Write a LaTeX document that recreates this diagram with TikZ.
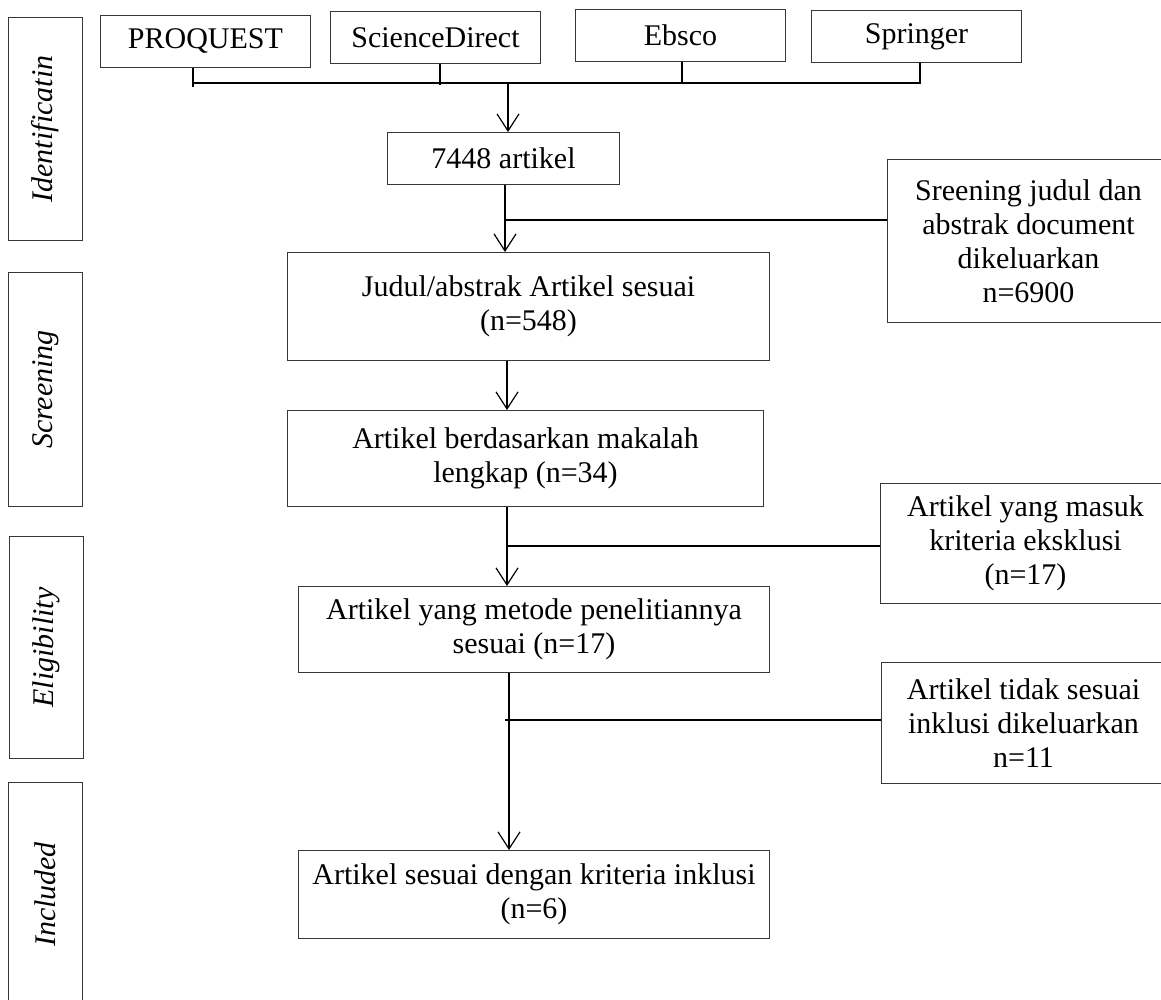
\documentclass[tikz,border=0pt]{standalone}
\usepackage{fontspec}
\setmainfont{Liberation Serif}
\usetikzlibrary{arrows.meta,calc}
\definecolor{boxgray}{RGB}{55,55,55}
\begin{document}
\begin{tikzpicture}[x=1pt,y=-1pt,
  bx/.style={draw=boxgray, line width=1pt, align=center, inner sep=0pt, anchor=north west, font=\fontsize{30}{34}\selectfont},
  lbl/.style={rotate=90, font=\fontsize{30}{34}\selectfont\itshape, inner sep=0pt},
  con/.style={line width=1.4pt},
  arr/.style={con, -{Straight Barb[length=17pt,width=22pt,line width=1.2pt]}}]
\clip (0,0) rectangle (1161,1000);
\fill[white] (0,0) rectangle (1161,1000);
% side labels
\node[bx, minimum width=74pt, minimum height=223pt] (s1) at (8,17) {};
\node[lbl] (s1t) at (s1.center) {Identificatin};
\node[bx, minimum width=74pt, minimum height=234pt] (s2) at (8,272) {};
\node[lbl] (s2t) at (s2.center) {Screening};
\node[bx, minimum width=74pt, minimum height=222pt] (s3) at (9,536) {};
\node[lbl] (s3t) at (s3.center) {Eligibility};
\node[bx, minimum width=74pt, minimum height=224pt] (s4) at (8,782) {};
\node[lbl] (s4t) at (s4.center) {Included};
% sources
\node[bx, minimum width=210pt, minimum height=52pt] (proq) at (100,15) {PROQUEST};
\node[bx, minimum width=210pt, minimum height=52pt] (sci) at (330,11) {ScienceDirect};
\node[bx, minimum width=210pt, minimum height=52pt] (ebs) at (575,9) {Ebsco};
\node[bx, minimum width=210pt, minimum height=52pt] (spr) at (811,10) {Springer};
% main boxes
\node[bx, minimum width=232pt, minimum height=52pt] (n7448) at (387,132) {7448 artikel};
\node[bx, minimum width=482pt, minimum height=108pt] (judul) at (287,252) {Judul/abstrak Artikel sesuai\\(n=548)};
\node[bx, minimum width=476pt, minimum height=96pt] (berd) at (287,410) {Artikel berdasarkan makalah\\lengkap (n=34)};
\node[bx, minimum width=471pt, minimum height=86pt] (metode) at (298,586) {Artikel yang metode penelitiannya\\sesuai (n=17)};
\node[bx, minimum width=471pt, minimum height=88pt] (final) at (298,850) {Artikel sesuai dengan kriteria inklusi\\(n=6)};
% side exclusion boxes
\node[bx, minimum width=282pt, minimum height=163pt] (scr) at (887,159) {Sreening judul dan\\abstrak document\\dikeluarkan\\n=6900};
\node[bx, minimum width=290pt, minimum height=120pt] (masuk) at (880,483) {Artikel yang masuk\\kriteria eksklusi\\(n=17)};
\node[bx, minimum width=284pt, minimum height=121pt] (tidak) at (881,662) {Artikel tidak sesuai\\inklusi dikeluarkan\\n=11};
% bus
\coordinate (busL) at (193,83);
\coordinate (busR) at (920,83);
\coordinate (t1) at (193,87);
\coordinate (t2) at (440,85);
\coordinate (t3) at (682,83);
\coordinate (t4) at (920,84);
\draw[con] (busL) -- (busR);
\draw[con] (proq.south -| t1) -- (t1);
\draw[con] (sci.south -| t2) -- (t2);
\draw[con] (ebs.south -| t3) -- (t3);
\draw[con] (spr.south -| t4) -- (t4);
\coordinate (sp1) at (508,83);
\draw[arr] (sp1) -- (sp1 |- n7448.north);
% 7448 -> judul, exclusion
\coordinate (sp2) at (505,220);
\draw[arr] (n7448.south -| sp2) -- (judul.north -| sp2);
\draw[con] (sp2) -- (sp2 -| scr.west);
% judul -> berd
\coordinate (sp3) at (507,400);
\draw[arr] (judul.south -| sp3) -- (berd.north -| sp3);
% berd -> metode
\coordinate (sp4) at (507,546);
\draw[arr] (berd.south -| sp4) -- (metode.north -| sp4);
\draw[con] (sp4) -- (sp4 -| masuk.west);
% metode -> final
\coordinate (sp5) at (509,720);
\coordinate (sp5l) at (505,720);
\draw[arr] (metode.south -| sp5) -- (final.north -| sp5);
\draw[con] (sp5l) -- (sp5 -| tidak.west);
\end{tikzpicture}
\end{document}
